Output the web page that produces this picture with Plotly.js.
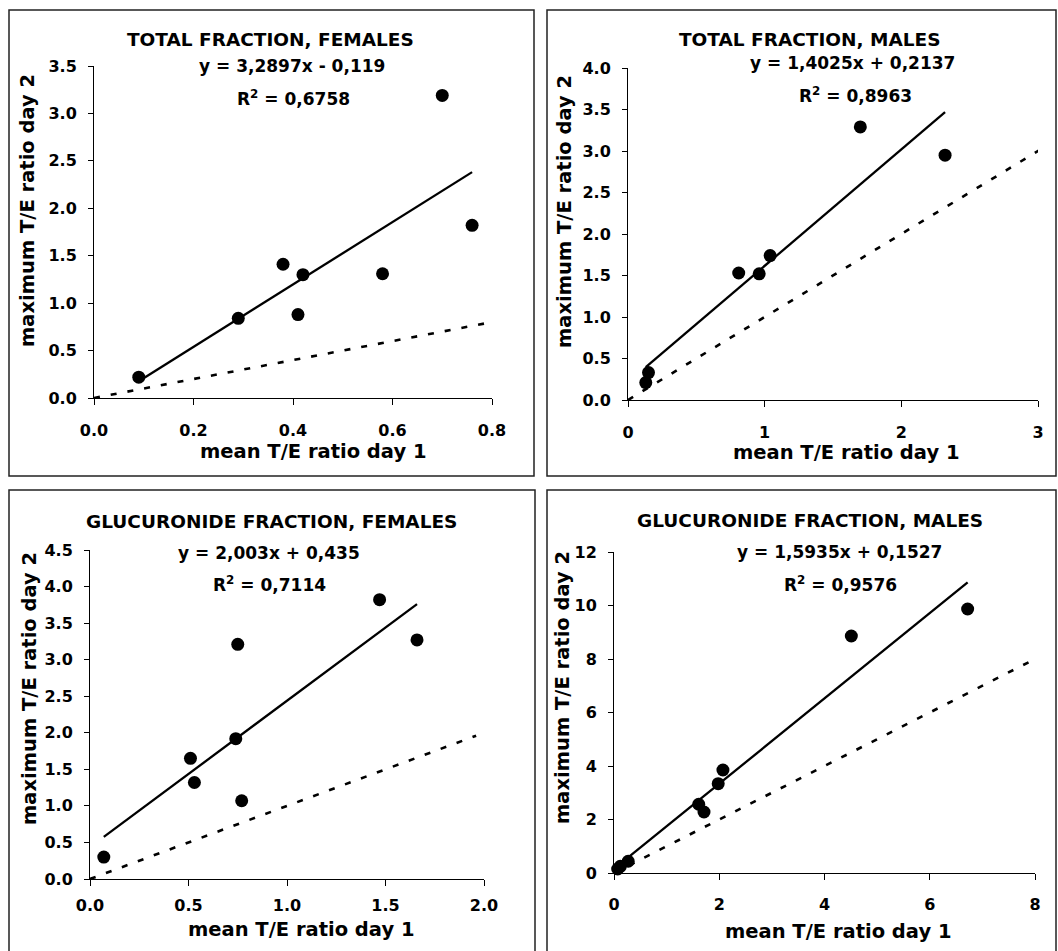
<!DOCTYPE html>
<html>
<head>
<meta charset="utf-8">
<script src="https://cdn.plot.ly/plotly-3.0.1.min.js"></script>
<style>
html,body{margin:0;padding:0;background:#fff;}
#chart{width:1058px;height:951px;}
</style>
</head>
<body>
<div id="chart"></div>
<script>
// ---- data ----
const panelTitles = ["TOTAL FRACTION, FEMALES", "TOTAL FRACTION, MALES",
                     "GLUCURONIDE FRACTION, FEMALES", "GLUCURONIDE FRACTION, MALES"];
const equations = ["y = 3,2897x - 0,119", "y = 1,4025x + 0,2137",
                   "y = 2,003x + 0,435", "y = 1,5935x + 0,1527"];
const rSquared = ["0,6758", "0,8963", "0,7114", "0,9576"];
const slopes = [3.2897, 1.4025, 2.003, 1.5935];
const intercepts = [-0.119, 0.2137, 0.435, 0.1527];

const totalFemalesX = [0.09, 0.29, 0.38, 0.42, 0.41, 0.58, 0.70, 0.76];
const totalFemalesY = [0.22, 0.84, 1.41, 1.30, 0.88, 1.31, 3.19, 1.82];
const totalMalesX = [0.13, 0.15, 0.81, 0.96, 1.04, 1.70, 2.32];
const totalMalesY = [0.21, 0.33, 1.53, 1.52, 1.74, 3.29, 2.95];
const glucFemalesX = [0.07, 0.51, 0.53, 0.75, 0.74, 0.77, 1.47, 1.66];
const glucFemalesY = [0.30, 1.65, 1.32, 3.21, 1.92, 1.07, 3.82, 3.27];
const glucMalesX = [0.07, 0.12, 0.27, 1.61, 1.71, 1.98, 2.07, 4.51, 6.72];
const glucMalesY = [0.15, 0.25, 0.44, 2.57, 2.28, 3.34, 3.85, 8.86, 9.87];

const identityEnd = [0.82, 3.02, 1.96, 7.9];

const xTickVals = [[0, 0.2, 0.4, 0.6, 0.8], [0, 1, 2, 3], [0, 0.5, 1, 1.5, 2], [0, 2, 4, 6, 8]];
const xTickText = [["0.0","0.2","0.4","0.6","0.8"], ["0","1","2","3"], ["0.0","0.5","1.0","1.5","2.0"], ["0","2","4","6","8"]];
const yTickVals = [[0,0.5,1,1.5,2,2.5,3,3.5], [0,0.5,1,1.5,2,2.5,3,3.5,4], [0,0.5,1,1.5,2,2.5,3,3.5,4,4.5], [0,2,4,6,8,10,12]];
const yTickText = [["0.0","0.5","1.0","1.5","2.0","2.5","3.0","3.5"],
                   ["0.0","0.5","1.0","1.5","2.0","2.5","3.0","3.5","4.0"],
                   ["0.0","0.5","1.0","1.5","2.0","2.5","3.0","3.5","4.0","4.5"],
                   ["0","2","4","6","8","10","12"]];
const xTitle = "mean T/E ratio day 1";
const yTitle = "maximum T/E ratio day 2";

// ---- layout geometry (pixels) ----
const W = 1058, H = 951;
const geo = [
  {box:[9,10,534,476],  plot:[94,66,492,398],  title:[270,40],  eq:[292,66],  r2:[293,98],  yt:[28,211],  xt:[313,452], xs:12},
  {box:[547,10,1056,476], plot:[628,68,1038,400], title:[810,40], eq:[852,63],  r2:[855,95],  yt:[565,212], xt:[846,453], xs:12},
  {box:[9,490,535,960], plot:[90,550,484,879],  title:[271,521], eq:[269,553], r2:[269,584], yt:[29,689],  xt:[301,929], xs:6},
  {box:[547,490,1056,960], plot:[614,552,1035,873], title:[810,520], eq:[839,552], r2:[840,584], yt:[562,688], xt:[838,931], xs:11}
];
const dataX = [totalFemalesX, totalMalesX, glucFemalesX, glucMalesX];
const dataY = [totalFemalesY, totalMalesY, glucFemalesY, glucMalesY];
const xMax = [0.8, 3, 2, 8];
const yMax = [3.5, 4, 4.5, 12];

const px = x => x / W;
const py = y => 1 - y / H;
const FONT = "DejaVu Sans, Liberation Sans, Arial, sans-serif";
const bold = arr => arr.map(s => "<b>" + s + "</b>");

const traces = [];
const layout = {
  width: W, height: H,
  margin: {l:0, r:0, t:0, b:0},
  paper_bgcolor: "#fff", plot_bgcolor: "#fff",
  showlegend: false,
  shapes: [], annotations: []
};

for (let i = 0; i < 4; i++) {
  const g = geo[i];
  const n = i === 0 ? "" : String(i + 1);
  const xa = "x" + n, ya = "y" + n;
  const xs = dataX[i], ys = dataY[i];
  const xmin = Math.min(...xs), xmaxD = Math.max(...xs);

  // identity line (dashed)
  traces.push({x:[0, identityEnd[i]], y:[0, identityEnd[i]], xaxis:xa, yaxis:ya,
    mode:"lines", line:{color:"#000", width:2.6, dash:"6px,11px"}, hoverinfo:"skip"});
  // trendline from chart equation
  traces.push({x:[xmin, xmaxD], y:[slopes[i]*xmin + intercepts[i], slopes[i]*xmaxD + intercepts[i]],
    xaxis:xa, yaxis:ya, mode:"lines", line:{color:"#000", width:2.3}, hoverinfo:"skip"});
  // points
  traces.push({x:xs, y:ys, xaxis:xa, yaxis:ya, mode:"markers", cliponaxis:false,
    marker:{color:"#000", size:13, symbol:"circle"}});

  const axCommon = {
    showgrid:false, zeroline:false, showline:true, linecolor:"#000", linewidth:1,
    ticks:"outside", tickcolor:"#000", tickwidth:1,
    tickfont:{family:FONT, size:16, color:"#000"},
    fixedrange:true
  };
  layout["xaxis" + n] = Object.assign({}, axCommon, {
    domain:[px(g.plot[0]), px(g.plot[2])], range:[0, xMax[i]], anchor:ya,
    tickmode:"array", tickvals:xTickVals[i], ticktext:bold(xTickText[i]), ticklen:6,
    ticklabelstandoff:g.xs
  });
  layout["yaxis" + n] = Object.assign({}, axCommon, {
    domain:[py(g.plot[3]), py(g.plot[1])], range:[0, yMax[i]], anchor:xa,
    tickmode:"array", tickvals:yTickVals[i], ticktext:bold(yTickText[i]), ticklen:5,
    ticklabelstandoff:8
  });

  layout.shapes.push({type:"rect", xref:"paper", yref:"paper",
    x0:px(g.box[0]), x1:px(g.box[2]), y0:py(g.box[3]), y1:py(g.box[1]),
    line:{color:"#222", width:1.5}, fillcolor:"rgba(0,0,0,0)", layer:"below"});

  const ann = (txt, pos, size, extra) => Object.assign({
    text:"<b>" + txt + "</b>", xref:"paper", yref:"paper", x:px(pos[0]), y:py(pos[1]),
    xanchor:"center", yanchor:"middle", showarrow:false,
    font:{family:FONT, size:size, color:"#000"}
  }, extra || {});
  layout.annotations.push(ann(panelTitles[i], g.title, 18.5));
  layout.annotations.push(ann(equations[i], g.eq, 17));
  layout.annotations.push(ann("R<sup>2</sup> = " + rSquared[i], g.r2, 17));
  layout.annotations.push(ann(yTitle, g.yt, 19.5, {textangle:-90}));
  layout.annotations.push(ann(xTitle, g.xt, 19.5));
}

Plotly.newPlot("chart", traces, layout, {displayModeBar:false, staticPlot:true});
</script>
</body>
</html>
